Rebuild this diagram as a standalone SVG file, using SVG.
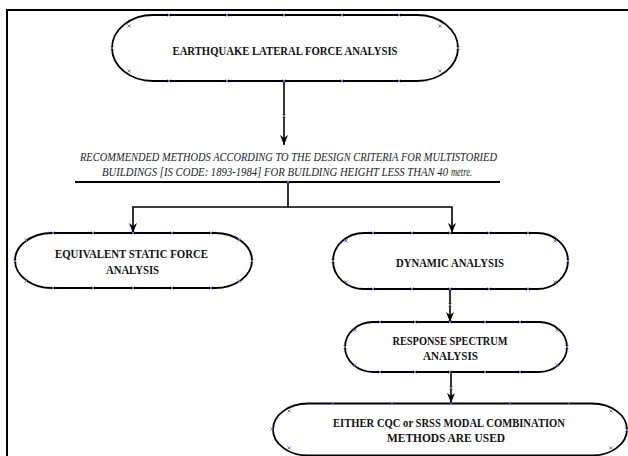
<svg xmlns="http://www.w3.org/2000/svg" xmlns:xlink="http://www.w3.org/1999/xlink" width="628" height="456" viewBox="0 0 628 456">
<style>
.node{fill:#fff;stroke:#000;stroke-width:1.8}
.lbl{font-family:"Liberation Serif","Times New Roman",serif;font-weight:bold;font-size:12.5px;fill:#111;text-anchor:middle}
.ital{font-family:"Liberation Serif","Times New Roman",serif;font-style:italic;font-size:12px;fill:#222}
.conn{fill:none;stroke:#000;stroke-width:1.6}
.mk{fill:none;stroke:#6f6fd8;stroke-width:0.9}
</style>
<defs>
<marker id="arr" markerUnits="userSpaceOnUse" markerWidth="8" markerHeight="10" refX="4" refY="10" orient="0" viewBox="0 0 8 10">
<path d="M0,0 L4,3 L8,0 L4,10 Z" fill="#000"/>
</marker>
<g id="x"><path class="mk" d="M-1.6,-1.6 L1.6,1.6 M-1.6,1.6 L1.6,-1.6"/></g>
</defs>
<rect width="628" height="456" fill="#fff"/>
<g id="frame">
<path d="M7,456 V10 H628" fill="none" stroke="#000" stroke-width="2"/>
</g>
<g id="connectors">
<path class="conn" d="M284,81 V145" marker-end="url(#arr)"/>
<path d="M75,182 H500" fill="none" stroke="#000" stroke-width="2"/>
<path class="conn" d="M288,182 V207 H133 V233" marker-end="url(#arr)"/>
<path class="conn" d="M288,207 H452 V233" marker-end="url(#arr)"/>
<path class="conn" d="M450,289 V322" marker-end="url(#arr)"/>
<path class="conn" d="M451,372 V403" marker-end="url(#arr)"/>
<use href="#x" x="284" y="116"/>
<use href="#x" x="288" y="182"/>
<use href="#x" x="450" y="305"/>
<use href="#x" x="451" y="388"/>
</g>
<g id="n1">
<path class="node" d="M153,15 H417 A41,33 0 0 1 417,81 H153 A41,33 0 0 1 153,15 Z"/>
<text class="lbl" x="285" y="55" textLength="225" lengthAdjust="spacingAndGlyphs">EARTHQUAKE LATERAL FORCE ANALYSIS</text>
<use href="#x" x="169" y="15"/><use href="#x" x="227" y="15"/><use href="#x" x="284" y="15"/><use href="#x" x="342" y="15"/><use href="#x" x="399" y="15"/>
<use href="#x" x="169" y="81"/><use href="#x" x="227" y="81"/><use href="#x" x="284" y="81"/><use href="#x" x="342" y="81"/><use href="#x" x="399" y="81"/>
<use href="#x" x="112" y="48"/><use href="#x" x="129" y="26"/><use href="#x" x="129" y="71"/>
<use href="#x" x="458" y="48"/><use href="#x" x="440" y="26"/><use href="#x" x="440" y="71"/>
</g>
<g id="criteria">
<text class="ital" x="80" y="161" textLength="417" lengthAdjust="spacingAndGlyphs">RECOMMENDED METHODS ACCORDING TO THE DESIGN CRITERIA FOR MULTISTORIED</text>
<text class="ital" x="102" y="176" textLength="346" lengthAdjust="spacingAndGlyphs">BUILDINGS [IS CODE: 1893-1984] FOR BUILDING HEIGHT LESS THAN 40</text>
<text class="ital" x="451" y="176" font-size="9px" textLength="21" lengthAdjust="spacingAndGlyphs">metre.</text>
</g>
<g id="n2">
<path class="node" d="M52,233 H215 A37,27.5 0 0 1 215,288 H52 A37,27.5 0 0 1 52,233 Z"/>
<text class="lbl" x="131.5" y="258" textLength="153" lengthAdjust="spacingAndGlyphs">EQUIVALENT STATIC FORCE</text>
<text class="lbl" x="132.5" y="274" textLength="53" lengthAdjust="spacingAndGlyphs">ANALYSIS</text>
<use href="#x" x="53" y="233"/><use href="#x" x="93" y="233"/><use href="#x" x="133" y="233"/><use href="#x" x="172" y="233"/><use href="#x" x="211" y="233"/>
<use href="#x" x="53" y="288"/><use href="#x" x="93" y="288"/><use href="#x" x="133" y="288"/><use href="#x" x="172" y="288"/><use href="#x" x="211" y="288"/>
<use href="#x" x="15" y="261"/><use href="#x" x="26" y="240"/><use href="#x" x="26" y="281"/>
<use href="#x" x="252" y="261"/><use href="#x" x="239" y="240"/><use href="#x" x="239" y="281"/>
</g>
<g id="n3">
<path class="node" d="M364,233 H537 A31,28 0 0 1 537,289 H364 A31,28 0 0 1 364,233 Z"/>
<text class="lbl" x="450" y="266.5" textLength="108" lengthAdjust="spacingAndGlyphs">DYNAMIC ANALYSIS</text>
<use href="#x" x="373" y="233"/><use href="#x" x="412" y="233"/><use href="#x" x="450" y="233"/><use href="#x" x="489" y="233"/><use href="#x" x="528" y="233"/>
<use href="#x" x="373" y="289"/><use href="#x" x="412" y="289"/><use href="#x" x="450" y="289"/><use href="#x" x="489" y="289"/><use href="#x" x="528" y="289"/>
<use href="#x" x="333" y="261"/><use href="#x" x="346" y="241"/><use href="#x" x="346" y="282"/>
<use href="#x" x="568" y="261"/><use href="#x" x="555" y="241"/><use href="#x" x="555" y="282"/>
</g>
<g id="n4">
<path class="node" d="M373,322 H539 A28,25 0 0 1 539,372 H373 A28,25 0 0 1 373,322 Z"/>
<text class="lbl" x="450" y="345" textLength="115" lengthAdjust="spacingAndGlyphs">RESPONSE SPECTRUM</text>
<text class="lbl" x="450.5" y="360" textLength="55" lengthAdjust="spacingAndGlyphs">ANALYSIS</text>
<use href="#x" x="380" y="322"/><use href="#x" x="415" y="322"/><use href="#x" x="450" y="322"/><use href="#x" x="485" y="322"/><use href="#x" x="520" y="322"/>
<use href="#x" x="380" y="372"/><use href="#x" x="415" y="372"/><use href="#x" x="450" y="372"/><use href="#x" x="485" y="372"/><use href="#x" x="520" y="372"/>
<use href="#x" x="345" y="347"/><use href="#x" x="355" y="330"/><use href="#x" x="355" y="365"/>
<use href="#x" x="567" y="347"/><use href="#x" x="557" y="330"/><use href="#x" x="557" y="365"/>
</g>
<g id="n5">
<path class="node" d="M308,403.5 H592 A35,26 0 0 1 592,455.5 H308 A35,26 0 0 1 308,403.5 Z"/>
<text class="lbl" x="449" y="427" textLength="232" lengthAdjust="spacingAndGlyphs">EITHER CQC or SRSS MODAL COMBINATION</text>
<text class="lbl" x="446" y="442" textLength="118" lengthAdjust="spacingAndGlyphs">METHODS ARE USED</text>
<use href="#x" x="333" y="403.5"/><use href="#x" x="392" y="403.5"/><use href="#x" x="451" y="403.5"/><use href="#x" x="510" y="403.5"/><use href="#x" x="569" y="403.5"/>
<use href="#x" x="272" y="429"/><use href="#x" x="289" y="411"/><use href="#x" x="289" y="448"/>
<use href="#x" x="627" y="430"/><use href="#x" x="611" y="411"/><use href="#x" x="611" y="448"/>
</g>
</svg>
